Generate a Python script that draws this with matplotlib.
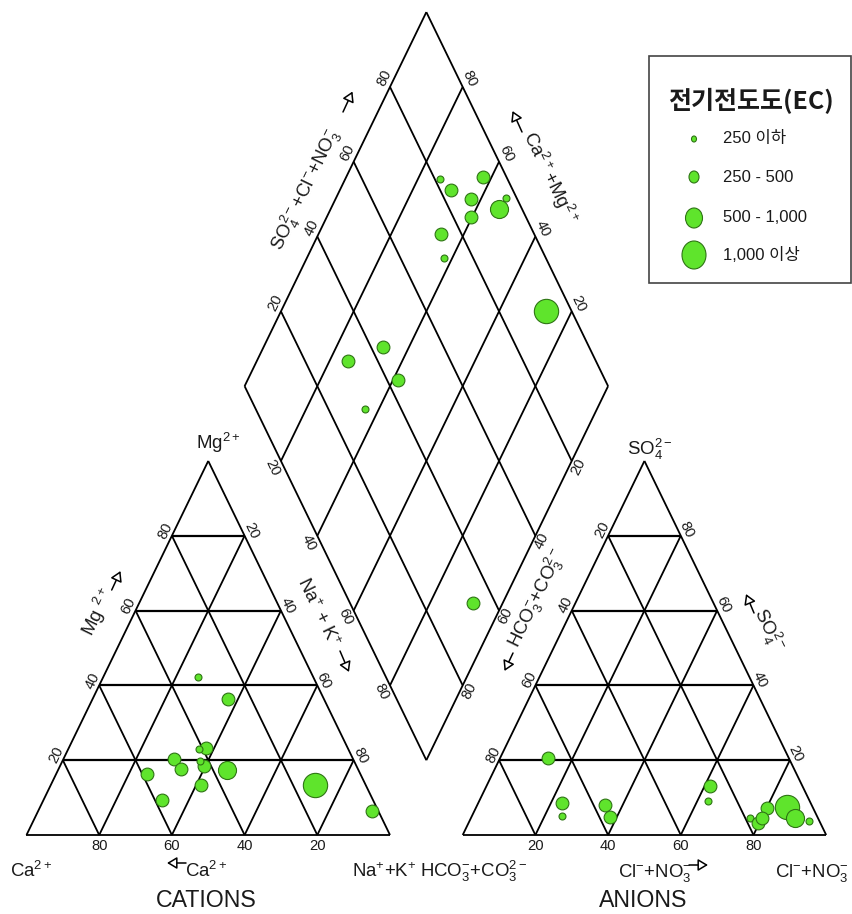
import numpy as np
import matplotlib
matplotlib.use('Agg')
import matplotlib.pyplot as plt
from matplotlib import font_manager as fm
from matplotlib.patches import Rectangle, Ellipse

# ---------------- data (meq %) ----------------
ca   = [31.8, 49.3, 39.0, 26.5, 36.1, 41.9, 48.7, 42.4, 13.8, 36.2, 57.9, 58.8, 45.3, 41.0, 1.8]
mg   = [42.3, 20.2, 23.3, 36.3, 17.0, 18.5, 17.6, 19.8, 13.4, 17.4, 9.4, 16.2, 13.4, 23.0, 6.4]
nak  = [25.9, 30.5, 37.7, 37.2, 46.9, 39.6, 33.7, 37.8, 72.8, 46.4, 32.7, 25.0, 41.3, 36.0, 91.8]
hco3 = [18.6, 17.1, 6.3, 12.7, 2.9, 15.3, 25.5, 28.0, 7.0, 6.3, 56.8, 68.3, 57.0, 70.0, 66.2]
so4  = [4.6, 3.1, 7.0, 7.3, 3.8, 4.6, 13.0, 9.1, 7.6, 4.6, 8.0, 8.6, 4.9, 5.1, 20.6]
cl   = [76.8, 79.8, 86.7, 80.0, 93.3, 80.1, 61.5, 62.9, 85.4, 89.1, 35.2, 23.1, 38.1, 24.9, 13.2]
ec_class = [0, 1, 1, 1, 0, 1, 1, 0, 3, 2, 1, 1, 1, 0, 1]   # 0:<=250 1:250-500 2:500-1000 3:>=1000

ec_labels = ['250 이하', '250 - 500', '500 - 1,000', '1,000 이상']
legend_title = '전기전도도(EC)'
ticks = [20, 40, 60, 80]

# ---------------- fonts ----------------
names = {f.name for f in fm.fontManager.ttflist}
if 'Liberation Sans Narrow' in names:
    FONT, FS, TFS = 'Liberation Sans Narrow', 1.0, 11.8
else:
    FONT, FS, TFS = 'Liberation Sans', 0.86, 10.6
plt.rcParams['font.family'] = [FONT, 'Noto Sans CJK KR', 'DejaVu Sans']
plt.rcParams['mathtext.default'] = 'regular'
TXT = '#1a1a1a'

W, HP = 852, 914
fig = plt.figure(figsize=(W / 100, HP / 100), dpi=100)
ax = fig.add_axes([0, 0, 1, 1])
ax.set_xlim(-0.0729, 2.2710)
ax.set_ylim(-0.1829, 1.9333)
ax.axis('off')

H = np.sqrt(3) / 2
G = 0.2

def cat(m, n):
    m = np.asarray(m, float); n = np.asarray(n, float)
    return (n + m / 2) / 100, m / 100 * H

def ani(s, c):
    s = np.asarray(s, float); c = np.asarray(c, float)
    return 1 + G + (c + s / 2) / 100, s / 100 * H

def dia(n, h):
    n = np.asarray(n, float) / 100; h = np.asarray(h, float) / 100
    t = 2 + G - n - h
    return n + t / 2, t * H

LW = 1.3
def seg(p, q, lw=LW):
    ax.plot([p[0], q[0]], [p[1], q[1]], color='black', lw=lw, solid_capstyle='butt', zorder=1)

# cation triangle
for p, q in [(cat(0, 0), cat(0, 100)), (cat(0, 100), cat(100, 0)), (cat(100, 0), cat(0, 0))]:
    seg(p, q)
for v in ticks:
    seg(cat(v, 0), cat(v, 100 - v), lw=1.6)
    seg(cat(0, v), cat(100 - v, v))
    seg(cat(0, 100 - v), cat(100 - v, 0))
# anion triangle
for p, q in [(ani(0, 0), ani(0, 100)), (ani(0, 100), ani(100, 0)), (ani(100, 0), ani(0, 0))]:
    seg(p, q)
for v in ticks:
    seg(ani(v, 0), ani(v, 100 - v), lw=1.6)
    seg(ani(0, v), ani(100 - v, v))
    seg(ani(0, 100 - v), ani(100 - v, 0))
# diamond
corners = [dia(0, 0), dia(0, 100), dia(100, 100), dia(100, 0), dia(0, 0)]
for p, q in zip(corners[:-1], corners[1:]):
    seg(p, q)
for v in ticks:
    seg(dia(v, 0), dia(v, 100))
    seg(dia(0, v), dia(100, v))

# tick labels
def tick(xy, s, dx, dy, rot):
    ax.annotate(s, xy=(float(xy[0]), float(xy[1])), xytext=(dx, dy), textcoords='offset pixels',
                ha='center', va='center', rotation=rot, rotation_mode='anchor',
                fontsize=TFS, color=TXT)

R = 64
for v in ticks:
    tick(cat(0, 100 - v), str(v), 0, -11, 0)
    tick(cat(v, 0), str(v), -7, 5, R)
    tick(cat(100 - v, v), str(v), 6.5, 5, -R)
    tick(ani(0, v), str(v), 0, -11, 0)
    tick(ani(100 - v, 0), str(v), -6, 5.5, R)
    tick(ani(v, 100 - v), str(v), 6, 6, -R)
    tick(dia(0, 100 - v), str(v), -6, 9, R)
    tick(dia(100 - v, 0), str(v), 7, 8, -R)
    tick(dia(v, 100), str(v), -8, -6.5, -R)
    tick(dia(100, v), str(v), 6.5, -5.5, R)

# ---------------- samples ----------------
face, edge = '#5FE42C', '#2E7414'
sizes = np.array([5.0, 9.2, 13.0, 17.5]) ** 2
s_arr = sizes[np.array(ec_class)]
cx, cy = cat(mg, nak)
axx, ayy = ani(so4, cl)
dx, dy = dia(nak, hco3)
for X, Y in [(cx, cy), (axx, ayy), (dx, dy)]:
    for i in range(len(X)):
        ax.scatter([X[i]], [Y[i]], s=[s_arr[i]], c=face, edgecolors=edge, linewidths=0.8, zorder=3)

# ---------------- titles ----------------
def ptext(x, y, s, size, rot=0, ha='center', va='center', **kw):
    fig.text(x / W, 1 - y / HP, s, fontsize=size, rotation=rot, ha=ha, va=va,
             rotation_mode='anchor', color=TXT, **kw)

def parrow(x0, y0, x1, y1):
    fig.add_artist(matplotlib.patches.FancyArrowPatch(
        (x0 / W, 1 - y0 / HP), (x1 / W, 1 - y1 / HP), transform=fig.transFigure,
        arrowstyle='-|>,head_length=0.5,head_width=0.3', mutation_scale=12,
        fc='white', ec='black', lw=1.1, shrinkA=0, shrinkB=0))

LFS = 15.6 * FS
ptext(196, 449, r'Mg$^{2+}$', LFS, ha='left', va='baseline')
ptext(98, 612, r'Mg $^{2+}$', LFS, rot=R)
parrow(111.7, 590, 120.5, 571)
ptext(10, 877, r'Ca$^{2+}$', LFS, ha='left', va='baseline')
ptext(185, 877, r'Ca$^{2+}$', LFS, ha='left', va='baseline')
parrow(186, 863, 167, 863)
ptext(352, 877, r'Na$^{+}$+K$^{+}$', LFS, ha='left', va='baseline')
ptext(206, 907, 'CATIONS', 19.4 * FS, ha='center', va='baseline')

ptext(627, 455, r'SO$_4^{2-}$', LFS, ha='left', va='baseline')
ptext(420, 877, r'HCO$_3^{-}$+CO$_3^{2-}$', LFS, ha='left', va='baseline')
ptext(618, 877, r'Cl$^{-}$+NO$_3^{-}$', LFS, ha='left', va='baseline')
parrow(689, 865, 708, 865)
ptext(775, 877, r'Cl$^{-}$+NO$_3^{-}$', LFS, ha='left', va='baseline')
ptext(643, 907, 'ANIONS', 19.4 * FS, ha='center', va='baseline')
ptext(768, 630, r'SO$_4^{2-}$', LFS, rot=-R)
parrow(754, 613, 746, 594)

ptext(306, 190, r'SO$_4^{2-}$+Cl$^{-}$+NO$_3^{-}$', LFS, rot=R)
parrow(343, 112, 352.5, 91.5)
ptext(550, 178, r'Ca$^{2+}$+Mg$^{2+}$', LFS, rot=-R)
parrow(522, 132, 512.5, 111)
ptext(318, 612, r'Na$^{+}$ + K$^{+}$', LFS, rot=-R)
parrow(340, 651, 349, 672)
ptext(537, 598, r'HCO$_3^{-}$+CO$_3^{2-}$', LFS, rot=R)
parrow(513, 653, 504.5, 671)

# ---------------- legend ----------------
fig.add_artist(Rectangle((649 / W, 1 - 283 / HP), 202 / W, 227 / HP, transform=fig.transFigure,
                         fill=False, ec='#444444', lw=1.2))
fig.text(751 / W, 1 - 101 / HP, legend_title, fontsize=18, fontweight='bold',
         family=['Noto Sans CJK KR', 'DejaVu Sans'], ha='center', va='center', color=TXT)
lw_ = [5, 10, 17, 24]
lh_ = [6, 12, 20, 28]
ly = [139, 177, 218, 255]
for k, lab in enumerate(ec_labels):
    fig.add_artist(Ellipse((694 / W, 1 - ly[k] / HP), lw_[k] / W, lh_[k] / HP, transform=fig.transFigure,
                           fc=face, ec=edge, lw=0.8))
    fig.text(723 / W, 1 - ly[k] / HP, lab, fontsize=12, ha='left', va='center', color=TXT,
             family=[FONT, 'Noto Sans CJK KR', 'DejaVu Sans'])

fig.savefig('out.png', dpi=100)
